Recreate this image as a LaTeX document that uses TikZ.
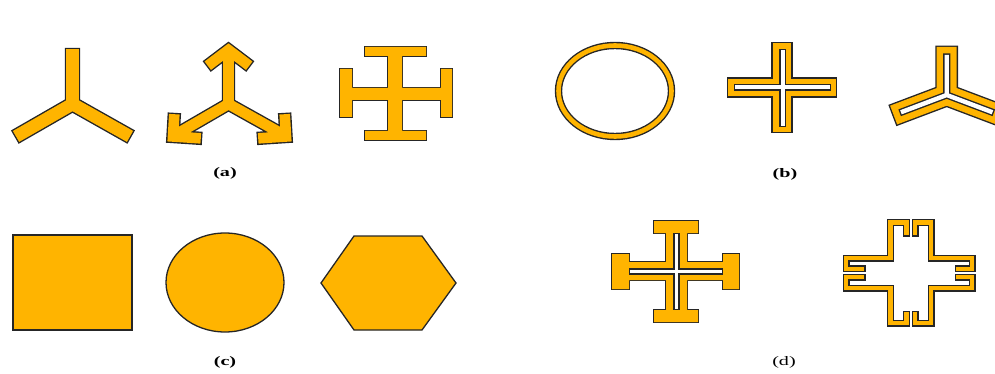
\documentclass[tikz,border=0pt]{standalone}
\usepackage{fontspec}
\setmainfont{Liberation Serif}
\definecolor{gold}{RGB}{255,180,0}
\definecolor{rimc}{RGB}{38,38,38}
\tikzset{
  rim/.style={draw=rimc, fill=rimc, line width=2.8pt, line join=miter},
  body/.style={fill=gold},
  solid/.style={draw=rimc, fill=gold, line width=1.3pt, line join=miter},
  rimline/.style={draw=rimc, line width=#1+2.8pt, line cap=rect, line join=miter},
  goldline/.style={draw=gold, line width=#1, line cap=rect, line join=miter},
  holeline/.style={draw=white, line width=#1, line cap=rect, line join=miter},
  tag/.style={font=\fontsize{13}{15}\selectfont, xscale=1.55},
}
\begin{document}
\begin{tikzpicture}[x=1pt,y=-1pt]
    \useasboundingbox (0,0) rectangle (995,374);
    \clip (0,0) rectangle (995,374);

    % (a) three arm shape
    \draw[rimline=12.6pt] (21.5,133.3) -- (72.5,104) -- (124.5,133.3) (72.5,104) -- (72.5,55.5);
    \draw[goldline=12.6pt] (21.5,133.3) -- (72.5,104) -- (124.5,133.3) (72.5,104) -- (72.5,55.5);
    % (a) three arrows
    \draw[rimline=10.6pt] (212,62.5) -- (228.5,50) -- (245,62.5) (228.5,104) -- (228.5,56)
        (174,119.5) -- (173,136.5) -- (195.5,138) (228.5,104) -- (178,133.3)
        (285,119.5) -- (286,136.5) -- (263.5,138) (228.5,104) -- (281,133.3);
    \draw[goldline=10.6pt] (212,62.5) -- (228.5,50) -- (245,62.5) (228.5,104) -- (228.5,56)
        (174,119.5) -- (173,136.5) -- (195.5,138) (228.5,104) -- (178,133.3)
        (285,119.5) -- (286,136.5) -- (263.5,138) (228.5,104) -- (281,133.3);
    % (a) cross with end bars
    \foreach \pass in {rim,body}{
      \path[\pass] (388,50) rectangle (402,137) (346,88) rectangle (447,100)
        (365,47) rectangle (426,56) (365,131) rectangle (426,140)
        (340,69) rectangle (352,117) (441,69) rectangle (452,117);
    }
    \node[tag] (lbla) at (225,173) {\bfseries (a)};

    % (b) ring
    \draw[rimc, line width=7.4pt] (615,91) ellipse [x radius=56.5pt, y radius=45.5pt];
    \draw[gold, line width=4.6pt] (615,91) ellipse [x radius=56.5pt, y radius=45.5pt];
    % (b) hollow cross
    \draw[rimline=18.6pt] (782,52.5) -- (782,122.5);
    \draw[rimline=17.6pt] (737,87.5) -- (827,87.5);
    \draw[goldline=18.6pt] (782,52.5) -- (782,122.5);
    \draw[goldline=17.6pt] (737,87.5) -- (827,87.5);
    \draw[rimline=4pt] (782.5,52) -- (782.5,124) (737,87.5) -- (828,87.5);
    \draw[holeline=4pt] (782.5,52) -- (782.5,124) (737,87.5) -- (828,87.5);
    % (b) hollow three arm shape
    \draw[rimline=20pt] (903,111.5) -- (946.7,95) -- (990.4,111.5) (946.7,95) -- (946.7,57);
    \draw[goldline=20pt] (903,111.5) -- (946.7,95) -- (990.4,111.5) (946.7,95) -- (946.7,57);
    \draw[rimline=4.4pt] (903,111.5) -- (946.7,95) -- (990.4,111.5) (946.7,95) -- (946.7,57);
    \draw[holeline=4.4pt] (903,111.5) -- (946.7,95) -- (990.4,111.5) (946.7,95) -- (946.7,57);
    \node[tag] (lblb) at (785,174) {\bfseries (b)};

    % (c) solid patches
    \draw[solid] (13,235) rectangle (132,330);
    \draw[solid] (225,282.5) ellipse [x radius=59pt, y radius=49.5pt];
    \draw[solid] (321,283) -- (354,236) -- (422,236) -- (456,283) -- (422,330) -- (354,330) -- cycle;
    \node[tag] (lblc) at (225,362) {\bfseries (c)};

    % (d) slotted cross with end bars
    \foreach \pass in {rim,body}{
      \path[\pass] (666,228) rectangle (687,316) (624,262) rectangle (728,280)
        (654,221) rectangle (698,233) (654,310) rectangle (698,322)
        (612,254) rectangle (629,289) (723,254) rectangle (739,289);
    }
    \draw[rimline=3.6pt] (676.5,236) -- (676.5,307) (632,271.5) -- (720,271.5);
    \draw[holeline=3.6pt] (676.5,236) -- (676.5,307) (632,271.5) -- (720,271.5);
    % (d) cross loop with hooked gaps
    \foreach \pass in {rimline,goldline}{
      \draw[\pass=4.2pt] (906.5,233) -- (906.5,222.5) -- (890.5,222.5) -- (890.5,258) -- (846,258)
          -- (846,268.8) -- (862,268.8)
        (862,277.2) -- (846,277.2) -- (846,288) -- (890.5,288) -- (890.5,323) -- (906.5,323)
          -- (906.5,314.5)
        (915,314.5) -- (915,323) -- (931,323) -- (931,288) -- (972,288) -- (972,277.2)
          -- (958,277.2)
        (958,268.8) -- (972,268.8) -- (972,258) -- (931,258) -- (931,222.5) -- (915,222.5)
          -- (915,233);
    }
    \node[tag] (lbld) at (784,362) {(d)};
\end{tikzpicture}
\end{document}
